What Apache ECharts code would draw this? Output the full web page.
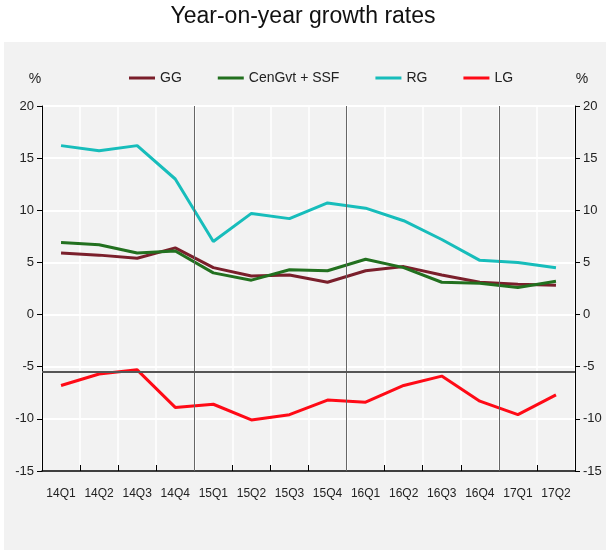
<!DOCTYPE html>
<html>
<head>
<meta charset="utf-8">
<script src="https://cdn.jsdelivr.net/npm/echarts@6/dist/echarts.min.js"></script>
<style>
  html, body { margin: 0; padding: 0; background: #fff; }
  #main { width: 606px; height: 553px; }
</style>
</head>
<body>
<div id="main"></div>
<script>
// 季度
var quarters = ['14Q1', '14Q2', '14Q3', '14Q4', '15Q1', '15Q2', '15Q3', '15Q4',
                '16Q1', '16Q2', '16Q3', '16Q4', '17Q1', '17Q2'];

// 同比增速 (%)
var gg      = [5.9, 5.7, 5.4, 6.4, 4.5, 3.7, 3.8, 3.1, 4.2, 4.6, 3.8, 3.1, 2.9, 2.8];
var cenGvt  = [6.9, 6.7, 5.9, 6.1, 4.0, 3.3, 4.3, 4.2, 5.3, 4.5, 3.1, 3.0, 2.6, 3.2];
var rg      = [16.2, 15.7, 16.2, 13.0, 7.0, 9.7, 9.2, 10.7, 10.2, 9.0, 7.2, 5.2, 5.0, 4.5];
var lg      = [-6.8, -5.7, -5.3, -8.9, -8.6, -10.1, -9.6, -8.2, -8.4, -6.8, -5.9, -8.3, -9.6, -7.7];

// 年份分隔线 (类目边界) 与参考水平线
var yearBreaks = [4, 8, 12];
var refLevel = -5.5;

var FONT = '"Liberation Sans Narrow", "Liberation Sans", Arial, sans-serif';

var myChart = echarts.init(document.getElementById('main'));

function axisY(pos) {
	return {
		type: 'value',
		position: pos,
		min: -15,
		max: 20,
		interval: 5,
		name: '%',
		nameLocation: 'end',
		nameGap: 20,
		nameTextStyle: { color: '#222', fontFamily: FONT, fontSize: 14,
			align: 'center', padding: pos === 'left' ? [0, 14, 0, 0] : [0, 0, 0, 14] },
		axisLine: { show: true, lineStyle: { color: '#000', width: 1 } },
		axisTick: { show: true, length: 5, lineStyle: { color: '#000' } },
		axisLabel: { color: '#222', fontFamily: FONT, fontSize: 13, margin: 8 },
		splitLine: { show: pos === 'left', lineStyle: { color: '#fff', width: 2 } }
	};
}

var option = {
	backgroundColor: '#fff',
	animation: false,
	title: {
		text: 'Year-on-year growth rates',
		left: 'center',
		top: 0,
		textStyle: { fontFamily: 'Liberation Sans, Arial, sans-serif', fontSize: 23, fontWeight: 'normal', color: '#111' }
	},
	graphic: [{
		type: 'rect',
		z: -10,
		shape: { x: 4, y: 42, width: 602, height: 508 },
		style: { fill: '#f2f2f2' }
	}],
	legend: {
		top: 66,
		left: 124,
		itemGap: 36,
		itemWidth: 26,
		itemHeight: 3,
		itemTextGap: 4,
		icon: 'rect',
		textStyle: { fontFamily: FONT, fontSize: 14, color: '#222' },
		data: ['GG', 'CenGvt + SSF', 'RG', 'LG']
	},
	grid: {
		left: 42,
		right: 31,
		top: 106,
		bottom: 82,
		show: true,
		backgroundColor: '#f2f2f2',
		borderWidth: 0
	},
	xAxis: [{
		type: 'category',
		data: quarters,
		boundaryGap: true,
		axisLine: { show: true, onZero: false, lineStyle: { color: '#000', width: 1.5 } },
		axisTick: { show: true, inside: true, length: 6, lineStyle: { color: '#000' } },
		axisLabel: { color: '#222', fontFamily: FONT, fontSize: 12, margin: 17, interval: 0 },
		splitLine: { show: true, interval: 0, lineStyle: { color: '#fff', width: 1.5 } }
	}, {
		type: 'value',
		min: 0,
		max: quarters.length,
		show: false
	}],
	yAxis: [axisY('left'), axisY('right')],
	series: [{
		name: 'GG', type: 'line', data: gg, symbol: 'none',
		lineStyle: { color: '#7a1f2b', width: 3 }, itemStyle: { color: '#7a1f2b' }
	}, {
		name: 'CenGvt + SSF', type: 'line', data: cenGvt, symbol: 'none',
		lineStyle: { color: '#22701f', width: 3 }, itemStyle: { color: '#22701f' }
	}, {
		name: 'RG', type: 'line', data: rg, symbol: 'none',
		lineStyle: { color: '#17bdbb', width: 3 }, itemStyle: { color: '#17bdbb' }
	}, {
		name: 'LG', type: 'line', data: lg, symbol: 'none',
		lineStyle: { color: '#ff0a16', width: 3 }, itemStyle: { color: '#ff0a16' }
	}, {
		// 分隔线
		type: 'line', xAxisIndex: 1, yAxisIndex: 0, data: [], silent: true,
		markLine: {
			symbol: 'none', silent: true, label: { show: false },
			lineStyle: { color: '#666', width: 1, type: 'solid' },
			data: yearBreaks.map(function(v) { return { xAxis: v }; })
		}
	}, {
		type: 'line', xAxisIndex: 1, yAxisIndex: 0, data: [], silent: true,
		markLine: {
			symbol: 'none', silent: true, label: { show: false },
			lineStyle: { color: '#555', width: 2, type: 'solid' },
			data: [{ yAxis: refLevel }]
		}
	}]
};

myChart.setOption(option);
</script>
</body>
</html>
